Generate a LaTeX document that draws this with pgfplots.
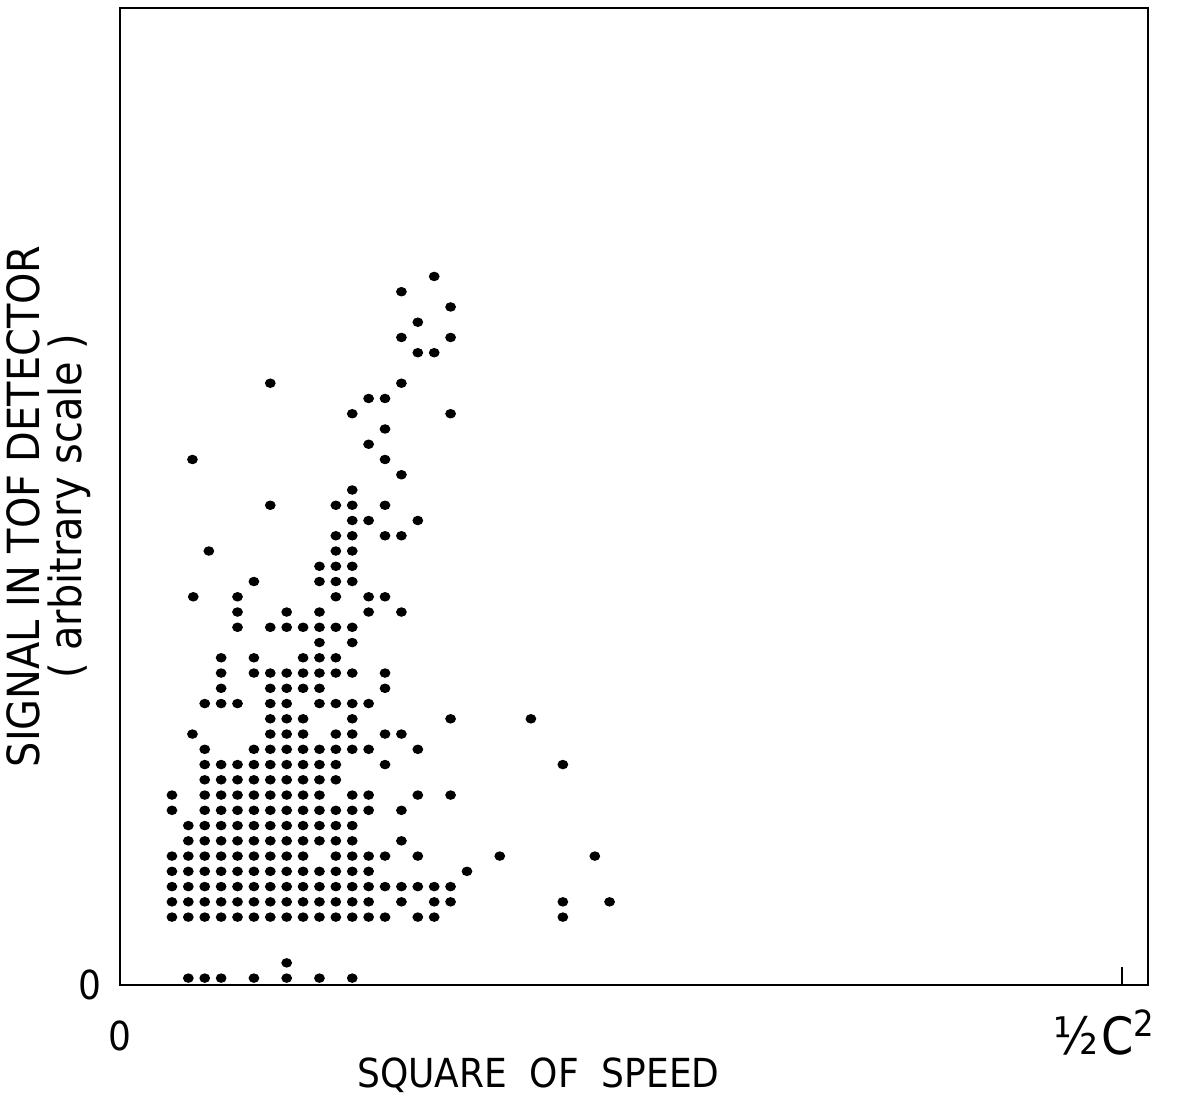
\documentclass[border=0pt]{standalone}
\usepackage{fontspec}
\setmainfont{DejaVu Sans Condensed}
\usepackage{pgfplots}
\usepackage{pgfplotstable}
\pgfplotsset{compat=1.18}
% c = column of the counting grid, r = row of the counting grid
\pgfplotstableread{
c r
1 -4
2 -4
3 -4
5 -4
7 -4
9 -4
11 -4
7 -3
0 0
1 0
2 0
3 0
4 0
5 0
6 0
7 0
8 0
9 0
10 0
11 0
12 0
13 0
15 0
16 0
23.85 0
0 1
1 1
2 1
3 1
4 1
5 1
6 1
7 1
8 1
9 1
10 1
11 1
12 1
14 1
16 1
17 1
23.85 1
26.7 1
0 2
1 2
2 2
3 2
4 2
5 2
6 2
7 2
8 2
9 2
10 2
11 2
12 2
13 2
14 2
15 2
16 2
17 2
0 3
1 3
2 3
3 3
4 3
5 3
6 3
7 3
8 3
9 3
10 3
11 3
12 3
18 3
0 4
1 4
2 4
3 4
4 4
5 4
6 4
7 4
8 4
10 4
11 4
12 4
13 4
15 4
20 4
25.8 4
1 5
2 5
3 5
4 5
5 5
6 5
7 5
8 5
9 5
10 5
11 5
14 5
1 6
2 6
3 6
4 6
5 6
6 6
7 6
8 6
9 6
10 6
11 6
0 7
2 7
3 7
4 7
5 7
6 7
7 7
8 7
9 7
10 7
11 7
12 7
14 7
0 8
2 8
3 8
4 8
5 8
6 8
7 8
8 8
9 8
11 8
12 8
15 8
17 8
2 9
3 9
4 9
5 9
6 9
7 9
8 9
9 9
10 9
2 10
3 10
4 10
5 10
6 10
7 10
8 10
9 10
10 10
13 10
23.85 10
2 11
5 11
6 11
7 11
8 11
9 11
10 11
11 11
12 11
15 11
1.25 12
6 12
7 12
8 12
10 12
11 12
13 12
14 12
6 13
7 13
8 13
11 13
17 13
21.9 13
2 14
3 14
4 14
6 14
7 14
9 14
10 14
11 14
12 14
3 15
6 15
7 15
8 15
9 15
13 15
3 16
5 16
6 16
7 16
8 16
9 16
10 16
11 16
13 16
3 17
5 17
8 17
9 17
10 17
9 18
11 18
4 19
6 19
7 19
8 19
9 19
10 19
11 19
4 20
7 20
9 20
12 20
14 20
1.3 21
4 21
10 21
12 21
13 21
5 22
9 22
10 22
11 22
9 23
10 23
11 23
2.25 24
10 24
11 24
10 25
11 25
13 25
14 25
11 26
12 26
15 26
6 27
10 27
11 27
13 27
11 28
14 29
1.25 30
13 30
12 31
13 32
11 33
17 33
12 34
13 34
6 35
14 35
15 37
16 37
14 38
17 38
15 39
17 40
14 41
16 42
}\dotsdata
\begin{document}
\begin{tikzpicture}
\path[use as bounding box] (-42pt,-37.8pt) rectangle (372.75pt,344.8pt);
\begin{axis}[
  at={(0,0)}, anchor=south west,
  scale only axis, width=359.8pt, height=342pt,
  xmin=-3.17, xmax=59.55, ymin=-4.46, ymax=59.6,
  axis line style={line width=0.9pt},
  font=\fontsize{14}{14}\selectfont,
  xtick={-3.17}, xticklabels={0},
  xtick pos=bottom, ytick pos=left,
  tick align=inside, major tick length=6.3pt,
  tick style={line width=0.9pt, black},
  xticklabel style={yshift=-9pt},
  extra x ticks={57.96},
  extra x tick labels={{\fontsize{18}{18}\selectfont ½\hspace{1pt}C\textsuperscript{2}}},
  extra x tick style={tick label style={yshift=4pt, xshift=-6pt}},
  ytick={-4.46}, yticklabels={0},
  yticklabel style={xshift=-3pt},
  xlabel={SQUARE\ \ OF\ \ SPEED},
  xlabel style={at={(axis description cs:0.407,0)}, anchor=center, yshift=-31.5pt},
  ylabel={SIGNAL IN TOF DETECTOR\\( arbitrary scale )},
  ylabel style={at={(axis description cs:0,0.49)}, anchor=center, align=center, yshift=25pt, font=\fontsize{15.5}{14.5}\selectfont},
]
\addplot[only marks, mark=*, mark size=1.45pt, mark options={fill=black, draw=black, xscale=1.15}]
  table[x=c, y=r] {\dotsdata};
\end{axis}
\end{tikzpicture}
\end{document}
